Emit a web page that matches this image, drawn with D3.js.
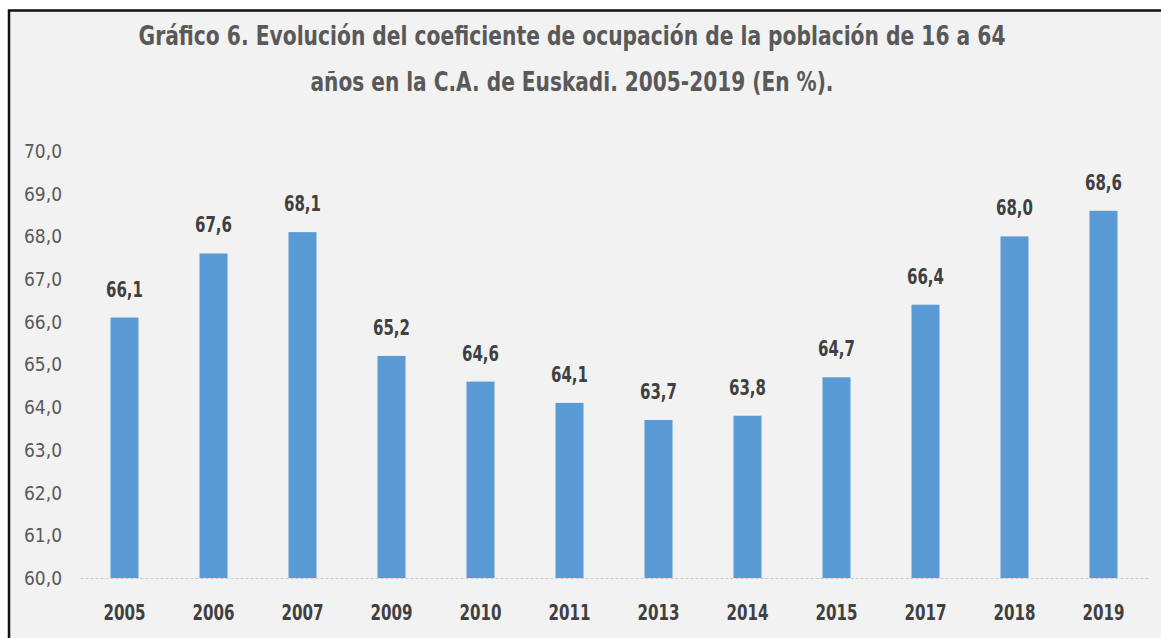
<!DOCTYPE html>
<html><head><meta charset="utf-8">
<script src="https://cdn.jsdelivr.net/npm/d3@7"></script>
<style>
html,body{margin:0;padding:0;background:#fff;}
svg{display:block;}
</style></head>
<body>
<svg id="chart" width="1161" height="638"></svg>
<script>
const years = ["2005","2006","2007","2009","2010","2011","2013","2014","2015","2017","2018","2019"];
const values = [66.1, 67.6, 68.1, 65.2, 64.6, 64.1, 63.7, 63.8, 64.7, 66.4, 68.0, 68.6];
const yTicks = [60,61,62,63,64,65,66,67,68,69,70];
const titleLines = ["Gráfico 6. Evolución del coeficiente de ocupación de la población de 16 a 64",
                    "años en la C.A. de Euskadi. 2005-2019 (En %)."];
const titleWidths = [867, 523];

const FONT = "'DejaVu Sans Condensed','Liberation Sans Narrow',sans-serif";
const fmt = v => v.toFixed(1).replace(".", ",");

const svg = d3.select("#chart");
// frame
svg.append("rect").attr("x",9).attr("y",10.5).attr("width",1161).attr("height",640)
  .attr("fill","#f2f2f2").attr("stroke","#111").attr("stroke-width",2.5);

// title
svg.append("g").selectAll("text").data(titleLines).join("text")
  .attr("x",572).attr("y",(d,i)=>45+i*46)
  .attr("text-anchor","middle")
  .attr("textLength",(d,i)=>titleWidths[i]).attr("lengthAdjust","spacingAndGlyphs")
  .attr("font-family",FONT).attr("font-weight","bold").attr("font-size",26)
  .attr("fill","#595959").text(d=>d);

const x = d3.scaleBand().domain(years).range([80,1148]).paddingInner(0.685).paddingOuter(0.3425);
const y = d3.scaleLinear().domain([60,70]).range([578,151]);

// y axis labels
const yAxis = d3.axisLeft(y).tickValues(yTicks).tickFormat(fmt).tickSize(0).tickPadding(0);
const ya = svg.append("g").attr("transform","translate(62,0)").call(yAxis);
ya.select(".domain").remove();
ya.selectAll("text").attr("font-family",FONT).attr("font-size",20).attr("fill","#595959")
  .attr("textLength",38).attr("lengthAdjust","spacingAndGlyphs");

// bars
svg.append("g").selectAll("rect").data(values).join("rect")
  .attr("x",(d,i)=>x(years[i])).attr("width",x.bandwidth())
  .attr("y",d=>y(d)).attr("height",d=>y(60)-y(d))
  .attr("fill","#5b9bd5");

// x axis
const xAxis = d3.axisBottom(x).tickSize(0).tickPadding(27);
const xa = svg.append("g").attr("transform","translate(0,578)").call(xAxis);
xa.select(".domain").attr("stroke","#d6c6c6").attr("stroke-width",1.2).attr("stroke-dasharray","3,2");
xa.selectAll("text").attr("font-family",FONT).attr("font-size",21).attr("font-weight","bold").attr("fill","#404040")
  .attr("textLength",42).attr("lengthAdjust","spacingAndGlyphs");

// value labels
svg.append("g").selectAll("text").data(values).join("text")
  .attr("x",(d,i)=>x(years[i])+x.bandwidth()/2)
  .attr("y",d=>y(d)-21)
  .attr("text-anchor","middle")
  .attr("textLength",37).attr("lengthAdjust","spacingAndGlyphs")
  .attr("font-family",FONT).attr("font-size",21).attr("font-weight","bold").attr("fill","#404040")
  .text(fmt);
</script>
</body></html>
